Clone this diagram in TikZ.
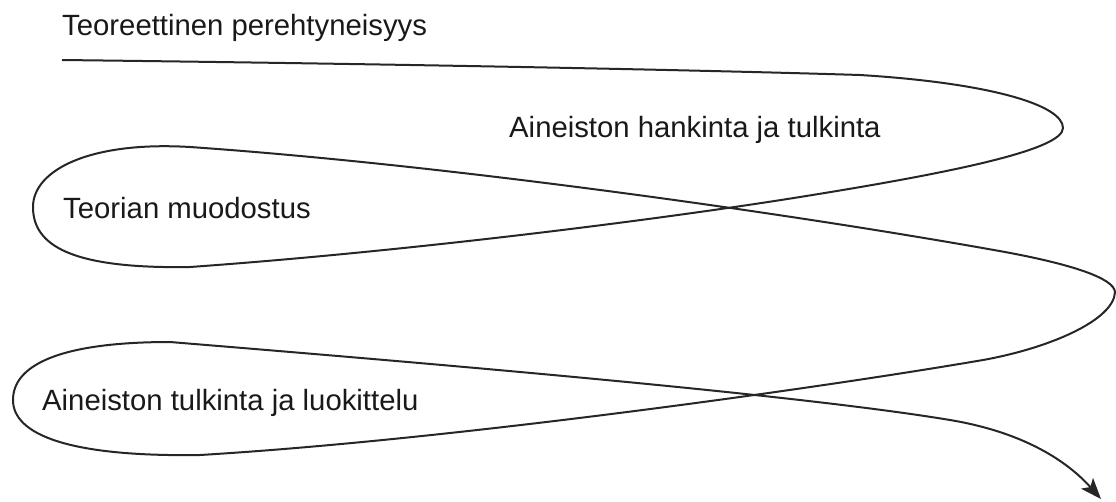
\documentclass[tikz,border=0pt]{standalone}
\usepackage{fontspec}
\setmainfont{Liberation Sans}
\usetikzlibrary{arrows.meta}
\tikzset{
  lbl/.style={anchor=base west, inner sep=0pt, font=\fontsize{29.3}{35}\selectfont, text=black!90},
  flow/.style={line width=2pt, draw=black!85, line join=round}
}
\begin{document}
\begin{tikzpicture}[x=1pt,y=-1pt]
\useasboundingbox (0,0) rectangle (1116,501);
\node[lbl] (t1) at (62,35) {Teoreettinen perehtyneisyys};
\node[lbl] (t2) at (509,137) {Aineiston hankinta ja tulkinta};
\node[lbl] (t3) at (63,218) {Teorian muodostus};
\node[lbl] (t4) at (42,410) {Aineiston tulkinta ja luokittelu};
\coordinate (s) at (62,60);
\coordinate (a) at (860,75);
\coordinate (r1) at (1063,128);
\coordinate (b) at (800,197);
\coordinate (c) at (190,267);
\coordinate (l1) at (33,207);
\coordinate (d) at (190,147);
\coordinate (e) at (1005,252);
\coordinate (r2) at (1115,292);
\coordinate (f) at (983,360);
\coordinate (g) at (200,455);
\coordinate (l2) at (13,400);
\coordinate (h) at (170,342);
\coordinate (k) at (950,420);
\coordinate (tip) at (1101,499);
\draw[flow, -{Stealth[length=21pt,width=16pt,inset=5pt]}]
  (s) .. controls (400,64) and (700,70) .. (a)
  .. controls (990,83) and (1063,105) .. (r1)
  .. controls (1063,150) and (950,173) .. (b)
  .. controls (650,221) and (400,252) .. (c)
  .. controls (70,269) and (33,245) .. (l1)
  .. controls (33,170) and (90,141) .. (d)
  .. controls (450,165) and (800,215) .. (e)
  .. controls (1070,264) and (1114,278) .. (r2)
  .. controls (1114,320) and (1050,348) .. (f)
  .. controls (820,388) and (450,440) .. (g)
  .. controls (70,457) and (13,435) .. (l2)
  .. controls (13,365) and (60,342) .. (h)
  .. controls (450,365) and (800,395) .. (k)
  .. controls (1025,432.5) and (1068,462) .. (tip);
\end{tikzpicture}
\end{document}
